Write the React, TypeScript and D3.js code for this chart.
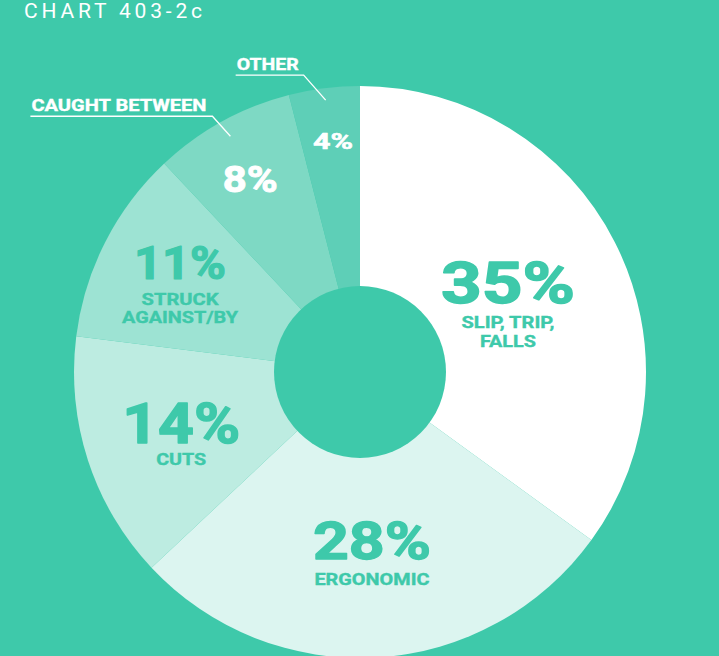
import React from "react";
import * as d3 from "d3";

const categories = ["SLIP, TRIP, FALLS", "ERGONOMIC", "CUTS", "STRUCK AGAINST/BY", "CAUGHT BETWEEN", "OTHER"];
const values = [35, 28, 14, 11, 8, 4];
const pctLabels = ["35%", "28%", "14%", "11%", "8%", "4%"];
const subLines = [["SLIP, TRIP,", "FALLS"], ["ERGONOMIC"], ["CUTS"], ["STRUCK", "AGAINST/BY"], [], []];
const calloutText = ["", "", "", "", "CAUGHT BETWEEN", "OTHER"];

const BG = "#3ec9aa";
const sliceColors = ["#ffffff", "#dcf5f0", "#bdece1", "#9de3d3", "#7ed9c4", "#5ecfb7"];

// layout (positions/sizes)
const W = 719, H = 656;
const cx = 360, cy = 372, R = 286, r0 = 86;
const labelR = [166, 190, 188, 202, 228, 216];
const pctSize = [58, 52, 55, 46, 37, 22];
const pctWidth = [134, 118, 118, 92, 55, 40];
const pctDy = [6, -3, 13, -1, 20, -9];
const subDy = [[31, 50], [23], [35], [25, 43], [], []];
const subWidth = [[93, 56], [115], [50], [77, 116], [], []];
const pctFill = [BG, BG, BG, BG, "#ffffff", "#ffffff"];
const calloutStartR = [0, 0, 0, 0, 269, 274];
const calloutDx = [0, 0, 0, 0, -18, -22];
const calloutDy = [0, 0, 0, 0, -20, -25];
const calloutLineLen = [0, 0, 0, 0, 182, 68];
const calloutTextW = [0, 0, 0, 0, 175, 62];

export default function App() {
  const pie = d3.pie<number>().value((d) => d).sort(null);
  const arcs = pie(values);
  const arcGen = d3.arc<d3.PieArcDatum<number>>().innerRadius(0).outerRadius(R);
  const font = "Roboto, 'Open Sans', sans-serif";

  return (
    <svg width={W} height={H} style={{ position: "fixed", left: 0, top: 0 }}>
      <rect width={W} height={H} fill={BG} />
      <text x={24} y={18} fill="#fff" fontFamily={font} fontWeight={400} fontSize={21} textLength={178} lengthAdjust="spacing">
        CHART 403-2c
      </text>
      <g transform={`translate(${cx},${cy})`}>
        {arcs.map((a, i) => (
          <path key={categories[i]} d={arcGen(a) || ""} fill={sliceColors[i]} />
        ))}
        <circle r={r0} fill={BG} />
        {arcs.map((a, i) => {
          const mid = (a.startAngle + a.endAngle) / 2;
          const x = Math.sin(mid) * labelR[i];
          const y = -Math.cos(mid) * labelR[i];
          return (
            <g key={"l" + i} transform={`translate(${x},${y})`} fontFamily={font} textAnchor="middle">
              <text y={pctDy[i]} fontSize={pctSize[i]} fontWeight={700} fill={pctFill[i]} stroke={pctFill[i]} strokeWidth={pctSize[i] / 40} strokeLinejoin="round" textLength={pctWidth[i]} lengthAdjust="spacingAndGlyphs">
                {pctLabels[i]}
              </text>
              {subLines[i].map((s, j) => (
                <text key={j} y={subDy[i][j]} fontSize={17} fontWeight={700} fill={BG} stroke={BG} strokeWidth={0.4} textLength={subWidth[i][j]} lengthAdjust="spacingAndGlyphs">
                  {s}
                </text>
              ))}
            </g>
          );
        })}
        {arcs.map((a, i) => {
          if (!calloutText[i]) return null;
          const mid = (a.startAngle + a.endAngle) / 2;
          const sx = Math.sin(mid) * calloutStartR[i];
          const sy = -Math.cos(mid) * calloutStartR[i];
          const ex = sx + calloutDx[i];
          const ey = sy + calloutDy[i];
          const hx = ex - calloutLineLen[i];
          return (
            <g key={"c" + i}>
              <polyline points={`${sx},${sy} ${ex},${ey} ${hx},${ey}`} fill="none" stroke="#fff" strokeWidth={1.3} />
              <text x={hx + 1} y={ey - 5} fill="#fff" stroke="#fff" strokeWidth={0.4} fontFamily={font} fontWeight={700} fontSize={17} textLength={calloutTextW[i]} lengthAdjust="spacingAndGlyphs">
                {calloutText[i]}
              </text>
            </g>
          );
        })}
      </g>
    </svg>
  );
}
